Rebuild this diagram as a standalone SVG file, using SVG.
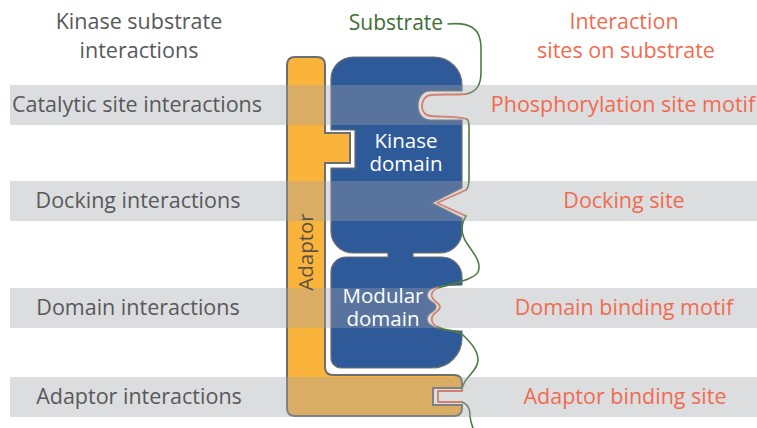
<svg xmlns="http://www.w3.org/2000/svg" width="757" height="428" viewBox="0 0 757 428">
<style>
.lbl{font-family:"Open Sans","Liberation Sans",sans-serif;font-size:21.5px;fill:#58595b}
.site{font-family:"Open Sans","Liberation Sans",sans-serif;font-size:21.5px;fill:#f26b50}
.dom{font-family:"Open Sans","Liberation Sans",sans-serif;font-size:20.5px;fill:#ffffff;text-anchor:middle}
.band{fill:#a0a3a8;fill-opacity:0.37}
.sub{fill:none;stroke:#4b7d3f;stroke-width:1.6;stroke-linejoin:round;stroke-linecap:round}
.site-line{fill:none;stroke:#f26b50;stroke-width:1.8;stroke-linejoin:round;stroke-linecap:round}
</style>
<rect width="757" height="428" fill="#ffffff"/>
<g id="adaptor">
<path d="M287,65 Q287,57 295,57 L317,57 Q325,57 325,65 L325,133 L350,133 L350,163 L325,163 L325,367 Q325,375 333,375 L454,375 Q462,375 462,383 L462,388 L433,388 L433,405 L462,405 L462,408 Q462,416 454,416 L295,416 Q287,416 287,408 Z" fill="#fbb43b" stroke="#6d6e71" stroke-width="2"/>
</g>
<g id="kinase">
<path d="M331,79 A22 22 0 0 1 353,57 L434,57 A28 28 0 0 1 462,85 L462,91 C452,91 440,91 430,91 C414,91 414,120 430,120 C440,120 452,120 462,120 L462,188 L432,203 L462,218 L462,231 A22 22 0 0 1 440,253 L413,253 L413,257 L442,257 A20 20 0 0 1 462,277 L462,285 C445,285 427,286 427,295 C427,302 436,302 436,307 C436,312 427,312 427,319 C427,328 445,331 462,331 L462,338 A30 30 0 0 1 432,368 L341,368 A10 10 0 0 1 331,358 L331,272 A15 15 0 0 1 346,257 L388,257 L388,253 L353,253 A22 22 0 0 1 331,231 L331,168 L355,168 L355,130 L331,130 Z" fill="#2e5a99" stroke="#6d6e71" stroke-width="1.2"/>
</g>
<g id="connectors">
<path class="sub" d="M448,24 C470,22 481,28 481,48 L481,72 C481,86 476,92 466,94"/>
<path class="site-line" d="M466,94 C455,95 440,94 431,95 C419,96 419,116 431,116 C440,117 455,116 467,119"/>
<path class="sub" d="M467,119 C470,122 469,128 469,135 L469,180 C469,186 468,188 466,190"/>
<path class="site-line" d="M466,190 L437,203 L466,216"/>
<path class="sub" d="M466,216 C461,224 460,232 466,242 C474,254 482,262 478,272 C474,280 450,284 438,288"/>
<path class="site-line" d="M438,288 C432,290 431,294 432,297 C434,302 440,303 440,307 C440,311 434,312 432,317 C431,321 433,325 438,327"/>
<path class="sub" d="M438,327 C445,331 458,330 463,335 C470,342 478,350 478,360 C478,372 462,378 462,391"/>
<path class="site-line" d="M462,391 L438,391 L438,402 L462,402"/>
<path class="sub" d="M462,402 C468,404 470,410 470,415 C470,420 472,425 473,428"/>
</g>
<g id="bands">
<rect class="band" x="10" y="85" width="747" height="40"/>
<rect class="band" x="10" y="181" width="747" height="40"/>
<rect class="band" x="10" y="288" width="747" height="40"/>
<rect class="band" x="10" y="377" width="747" height="40"/>
</g>
<g id="domain-labels">
<text class="dom" x="406" y="148">Kinase</text>
<text class="dom" x="406" y="171">domain</text>
<text class="dom" x="383" y="303">Modular</text>
<text class="dom" x="383" y="326">domain</text>
<text transform="translate(313,252) rotate(-90)" text-anchor="middle" style="font-family:'Open Sans','Liberation Sans',sans-serif;font-size:20.5px;fill:#5b5146">Adaptor</text>
</g>
<g id="substrate-label">
<text x="396" y="30" text-anchor="middle" style="font-family:'Open Sans','Liberation Sans',sans-serif;font-size:21px;fill:#3f6e35">Substrate</text>
</g>
<g id="left-labels">
<text class="lbl" x="139" y="29" text-anchor="middle">Kinase substrate</text>
<text class="lbl" x="139" y="58" text-anchor="middle">interactions</text>
<text class="lbl" x="137" y="112" text-anchor="middle">Catalytic site interactions</text>
<text class="lbl" x="138" y="208" text-anchor="middle">Docking interactions</text>
<text class="lbl" x="138" y="315" text-anchor="middle">Domain interactions</text>
<text class="lbl" x="139" y="404" text-anchor="middle">Adaptor interactions</text>
</g>
<g id="right-labels">
<text class="site" x="624" y="29" text-anchor="middle">Interaction</text>
<text class="site" x="626" y="58" text-anchor="middle">sites on substrate</text>
<text class="site" x="623" y="112" text-anchor="middle">Phosphorylation site motif</text>
<text class="site" x="624" y="208" text-anchor="middle">Docking site</text>
<text class="site" x="624" y="315" text-anchor="middle">Domain binding motif</text>
<text class="site" x="625" y="404" text-anchor="middle">Adaptor binding site</text>
</g>
</svg>
